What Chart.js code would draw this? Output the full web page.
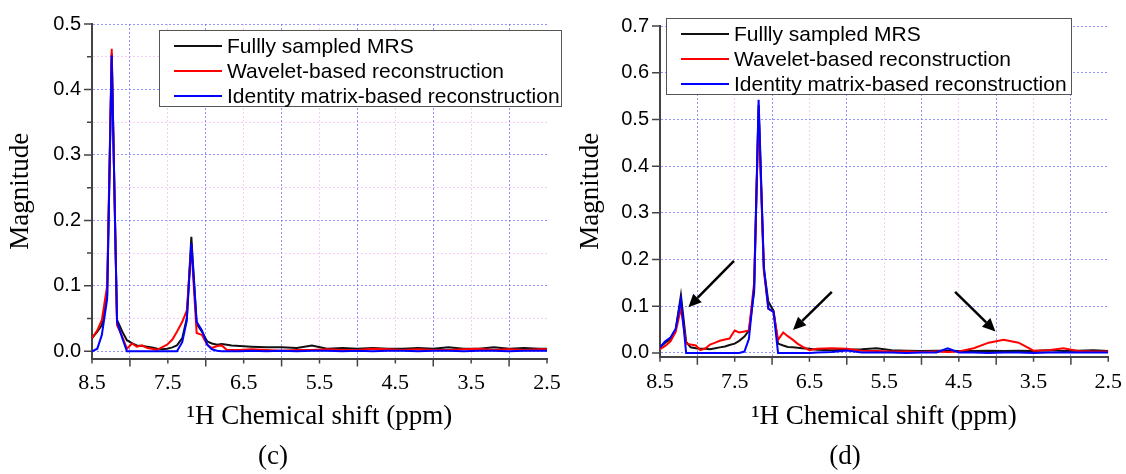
<!DOCTYPE html>
<html>
<head>
<meta charset="utf-8">
<script src="https://cdn.jsdelivr.net/npm/chart.js@4"></script>
<style>
  body { margin: 0; background: #fff; width: 1126px; height: 474px; position: relative; overflow: hidden; }
  .wrap { position: absolute; top: 0; height: 474px; }
  .legend { position: absolute; border: 1.5px solid #555; background: #fff; font-family: "Liberation Sans", Arial, sans-serif; font-size: 21px; color: #000; box-sizing: border-box; }
  .legend .row { position: absolute; left: 0; height: 25px; line-height: 25px; white-space: nowrap; }
  .legend .swatch { position: absolute; left: 14px; top: 12px; width: 48px; height: 2px; }
  .legend .txt { position: absolute; left: 67px; top: 0; }
  .caption { position: absolute; top: 440px; font-family: "Liberation Serif", "Times New Roman", serif; font-size: 27px; transform: translateX(-50%); }
</style>
</head>
<body>
<div class="wrap" style="left:0;width:565px"><canvas id="chartC"></canvas></div>
<div class="wrap" style="left:570px;width:556px"><canvas id="chartD"></canvas></div>
<div class="legend" id="legC" style="left:159px;top:30px;width:403px;height:77px"></div>
<div class="legend" id="legD" style="left:666px;top:18px;width:406px;height:77px"></div>
<div class="caption" style="left:273px">(c)</div>
<div class="caption" style="left:845px">(d)</div>
<script>
const seriesNames = ['Fullly sampled MRS', 'Wavelet-based reconstruction', 'Identity matrix-based reconstruction'];
const seriesColors = ['#111111', '#ff0000', '#0000ff'];

const xTicks = [8.5, 8.0, 7.5, 7.0, 6.5, 6.0, 5.5, 5.0, 4.5, 4.0, 3.5, 3.0, 2.5];
const yTicksC = [0, 0.05, 0.1, 0.15, 0.2, 0.25, 0.3, 0.35, 0.4, 0.45, 0.5];
const yTicksD = [0, 0.05, 0.1, 0.15, 0.2, 0.25, 0.3, 0.35, 0.4, 0.45, 0.5, 0.55, 0.6, 0.65, 0.7];

// panel (c)
const ppmC = [8.50, 8.43, 8.37, 8.30, 8.24, 8.17, 8.10, 8.04, 7.97, 7.91, 7.84, 7.77, 7.71, 7.64, 7.58,
  7.51, 7.44, 7.38, 7.31, 7.25, 7.19, 7.12, 7.05, 6.98, 6.92, 6.85, 6.79, 6.72, 6.66,
  6.55, 6.4, 6.2, 6.0, 5.8, 5.6, 5.4, 5.2, 5.0, 4.8, 4.6, 4.4, 4.2, 4.0, 3.8, 3.6, 3.4, 3.2, 3.0, 2.8, 2.6, 2.5];
const fullC = [0.020, 0.030, 0.040, 0.085, 0.455, 0.048, 0.030, 0.017, 0.012, 0.009, 0.008, 0.007, 0.006, 0.004, 0.003,
  0.004, 0.006, 0.009, 0.020, 0.050, 0.175, 0.042, 0.030, 0.015, 0.012, 0.010, 0.011, 0.010, 0.009,
  0.008, 0.007, 0.006, 0.006, 0.005, 0.009, 0.004, 0.005, 0.004, 0.005, 0.004, 0.004, 0.005, 0.004, 0.006, 0.004, 0.004, 0.006, 0.004, 0.005, 0.004, 0.004];
const waveC = [0.020, 0.032, 0.048, 0.100, 0.462, 0.040, 0.022, 0.004, 0.012, 0.007, 0.009, 0.005, 0.004, 0.002, 0.006,
  0.010, 0.018, 0.030, 0.045, 0.062, 0.160, 0.028, 0.025, 0.010, 0.005, 0.008, 0.009, 0.002, 0.002,
  0.002, 0.003, 0.002, 0.001, 0.002, 0.002, 0.003, 0.002, 0.002, 0.004, 0.003, 0.002, 0.003, 0.002, 0.002, 0.003, 0.004, 0.002, 0.003, 0.002, 0.003, 0.003];
const identC = [0.000, 0.004, 0.025, 0.080, 0.452, 0.045, 0.020, 0.000, 0.000, 0.000, 0.000, 0.000, 0.000, 0.000, 0.000,
  0.000, 0.000, 0.000, 0.014, 0.047, 0.165, 0.045, 0.032, 0.010, 0.003, 0.001, 0.000, 0.000, 0.000,
  0.000, 0.001, 0.000, 0.001, 0.000, 0.001, 0.001, 0.000, 0.001, 0.000, 0.001, 0.001, 0.000, 0.001, 0.001, 0.000, 0.001, 0.001, 0.000, 0.001, 0.001, 0.001];

// panel (d)
const ppmD = [8.50, 8.43, 8.36, 8.29, 8.22, 8.15, 8.09, 8.02, 7.96, 7.89, 7.83, 7.76, 7.70, 7.63, 7.57,
  7.50, 7.44, 7.37, 7.31, 7.24, 7.18, 7.11, 7.05, 6.98, 6.92, 6.85, 6.79, 6.72, 6.66, 6.60, 6.50,
  6.4, 6.2, 6.0, 5.8, 5.6, 5.4, 5.2, 5.0, 4.8, 4.65, 4.5, 4.3, 4.1, 3.9, 3.7, 3.5, 3.3, 3.1, 2.9, 2.7, 2.5];
const fullD = [0.012, 0.022, 0.030, 0.050, 0.124, 0.024, 0.012, 0.010, 0.009, 0.009, 0.008, 0.010, 0.012, 0.014, 0.017,
  0.020, 0.026, 0.035, 0.048, 0.130, 0.530, 0.180, 0.110, 0.090, 0.020, 0.016, 0.013, 0.012, 0.011, 0.010, 0.009,
  0.007, 0.006, 0.007, 0.008, 0.010, 0.006, 0.005, 0.004, 0.005, 0.005, 0.004, 0.004, 0.005, 0.004, 0.005, 0.004, 0.006, 0.004, 0.005, 0.006, 0.004];
const waveD = [0.008, 0.015, 0.025, 0.045, 0.096, 0.020, 0.018, 0.016, 0.006, 0.010, 0.018, 0.022, 0.026, 0.029, 0.031,
  0.048, 0.044, 0.046, 0.048, 0.150, 0.520, 0.175, 0.095, 0.088, 0.028, 0.044, 0.036, 0.028, 0.020, 0.014, 0.006,
  0.009, 0.010, 0.009, 0.005, 0.004, 0.003, 0.003, 0.002, 0.003, 0.002, 0.003, 0.010, 0.022, 0.028, 0.022, 0.005, 0.006, 0.010, 0.004, 0.003, 0.003];
const identD = [0.012, 0.025, 0.033, 0.052, 0.115, 0.000, 0.000, 0.000, 0.000, 0.000, 0.000, 0.000, 0.000, 0.000, 0.000,
  0.000, 0.000, 0.003, 0.030, 0.140, 0.542, 0.185, 0.095, 0.088, 0.000, 0.000, 0.000, 0.000, 0.000, 0.000, 0.000,
  0.001, 0.002, 0.005, 0.001, 0.001, 0.001, 0.000, 0.001, 0.001, 0.010, 0.001, 0.001, 0.000, 0.001, 0.001, 0.000, 0.001, 0.001, 0.001, 0.001, 0.001];

// arrows in panel (d): [ppm, magnitude] of tail and tip
const arrowsD = [
  { from: [7.51, 0.197], to: [8.12, 0.098] },
  { from: [6.20, 0.131], to: [6.72, 0.049] },
  { from: [4.55, 0.131], to: [4.01, 0.046] }
];

const SANS = '"Liberation Sans", Arial, sans-serif';
const SERIF = '"Liberation Serif", "Times New Roman", serif';
const MAJOR_GRID = 'rgba(110,110,255,0.75)';
const MINOR_GRID = 'rgba(240,170,240,0.6)';

const near = (a, b) => Math.abs(a - b) < 1e-6;
const isWhole = v => near(v, Math.round(v));
const isTenth = v => near(v * 10, Math.round(v * 10));

// tick marks: long at major, short at minor
const tickMarks = {
  id: 'tickMarks',
  afterDraw(chart) {
    const { ctx, chartArea, scales: { x, y } } = chart;
    ctx.save();
    ctx.strokeStyle = '#444';
    ctx.lineWidth = 1.5;
    ctx.beginPath();
    x.ticks.forEach(t => {
      const px = x.getPixelForValue(t.value);
      const len = isWhole(t.value) ? 8 : 5;
      ctx.moveTo(px, chartArea.bottom);
      ctx.lineTo(px, chartArea.bottom + len);
    });
    y.ticks.forEach(t => {
      const py = y.getPixelForValue(t.value);
      const len = isTenth(t.value) ? 8 : 5;
      ctx.moveTo(chartArea.left, py);
      ctx.lineTo(chartArea.left - len, py);
    });
    ctx.stroke();
    ctx.restore();
  }
};

const arrowPlugin = {
  id: 'arrows',
  afterDatasetsDraw(chart, args, opts) {
    const list = opts.list || [];
    const { ctx, scales: { x, y } } = chart;
    ctx.save();
    ctx.strokeStyle = '#000';
    ctx.fillStyle = '#000';
    ctx.lineWidth = 2.5;
    list.forEach(a => {
      const x1 = x.getPixelForValue(a.from[0]), y1 = y.getPixelForValue(a.from[1]);
      const x2 = x.getPixelForValue(a.to[0]), y2 = y.getPixelForValue(a.to[1]);
      const ang = Math.atan2(y2 - y1, x2 - x1);
      const hl = 13, hw = 6;
      const bx = x2 - hl * Math.cos(ang), by = y2 - hl * Math.sin(ang);
      ctx.beginPath();
      ctx.moveTo(x1, y1);
      ctx.lineTo(bx, by);
      ctx.stroke();
      ctx.beginPath();
      ctx.moveTo(x2, y2);
      ctx.lineTo(bx + hw * Math.sin(ang), by - hw * Math.cos(ang));
      ctx.lineTo(bx - hw * Math.sin(ang), by + hw * Math.cos(ang));
      ctx.closePath();
      ctx.fill();
    });
    ctx.restore();
  }
};

function makeChart(id, ppm, series, yTicks, cfg) {
  const datasets = series.map((vals, i) => ({
    label: seriesNames[i],
    data: ppm.map((p, j) => ({ x: p, y: vals[j] })),
    borderColor: seriesColors[i],
    borderWidth: 2,
    pointRadius: 0,
    tension: 0,
    fill: false,
    order: series.length - i
  }));

  return new Chart(document.getElementById(id), {
    type: 'line',
    data: { datasets },
    plugins: [tickMarks, arrowPlugin],
    options: {
      responsive: false,
      animation: false,
      layout: { padding: cfg.padding },
      plugins: {
        legend: { display: false },
        tooltip: { enabled: false },
        arrows: { list: cfg.arrows || [] }
      },
      scales: {
        x: {
          type: 'linear',
          reverse: true,
          min: 2.5,
          max: 8.5,
          afterBuildTicks: s => { s.ticks = xTicks.map(v => ({ value: v })); },
          afterFit: s => { s.height = cfg.xHeight; },
          ticks: {
            autoSkip: false,
            maxRotation: 0,
            padding: 4,
            color: '#000',
            font: { family: SERIF, size: 22 },
            callback: v => (near(v % 1, 0.5) ? v.toFixed(1) : '')
          },
          grid: {
            color: c => {
              const v = c.tick.value;
              if (near(v, 2.5) || near(v, 8.5)) return 'rgba(0,0,0,0)';
              return isWhole(v) ? MAJOR_GRID : MINOR_GRID;
            },
            lineWidth: 1,
            tickLength: 8,
            tickColor: 'rgba(0,0,0,0)'
          },
          border: { color: '#444', width: 2, dash: [2, 2] },
          title: {
            display: true,
            text: '\u00B9H Chemical shift (ppm)',
            color: '#000',
            font: { family: SERIF, size: 27 },
            padding: { top: 0, bottom: 0 }
          }
        },
        y: {
          min: cfg.yMin,
          max: cfg.yMax,
          afterBuildTicks: s => { s.ticks = yTicks.map(v => ({ value: v })); },
          afterFit: s => { s.width = cfg.yWidth; },
          ticks: {
            padding: 3,
            color: '#000',
            font: { family: SANS, size: 20 },
            callback: v => (isTenth(v) ? v.toFixed(1) : '')
          },
          grid: {
            color: c => (isTenth(c.tick.value) ? MAJOR_GRID : MINOR_GRID),
            lineWidth: 1,
            tickLength: 8,
            tickColor: 'rgba(0,0,0,0)'
          },
          border: { color: '#444', width: 2, dash: [2, 2] },
          title: {
            display: true,
            text: 'Magnitude',
            color: '#000',
            font: { family: SERIF, size: 27 },
            padding: { top: 5, bottom: 0 }
          }
        }
      }
    }
  });
}

function sizeCanvas(id, w, h) {
  const c = document.getElementById(id);
  c.width = w; c.height = h;
  c.style.width = w + 'px'; c.style.height = h + 'px';
}

function buildLegend(id) {
  const box = document.getElementById(id);
  seriesNames.forEach((name, i) => {
    const row = document.createElement('div');
    row.className = 'row';
    row.style.top = (2 + i * 25) + 'px';
    row.innerHTML = '<div class="swatch" style="background:' + seriesColors[i] + '"></div><div class="txt">' + name + '</div>';
    box.appendChild(row);
  });
}

sizeCanvas('chartC', 565, 474);
sizeCanvas('chartD', 556, 474);

makeChart('chartC', ppmC, [fullC, waveC, identC], yTicksC, {
  padding: { top: 24, right: 18, bottom: 40.8, left: 0 },
  xHeight: 74.7, yWidth: 92, yMin: -0.011, yMax: 0.5
});
makeChart('chartD', ppmD, [fullD, waveD, identD], yTicksD, {
  padding: { top: 26, right: 16, bottom: 40.8, left: 0 },
  xHeight: 76.5, yWidth: 90, yMin: -0.008, yMax: 0.7,
  arrows: arrowsD
});

buildLegend('legC');
buildLegend('legD');
</script>
</body>
</html>
